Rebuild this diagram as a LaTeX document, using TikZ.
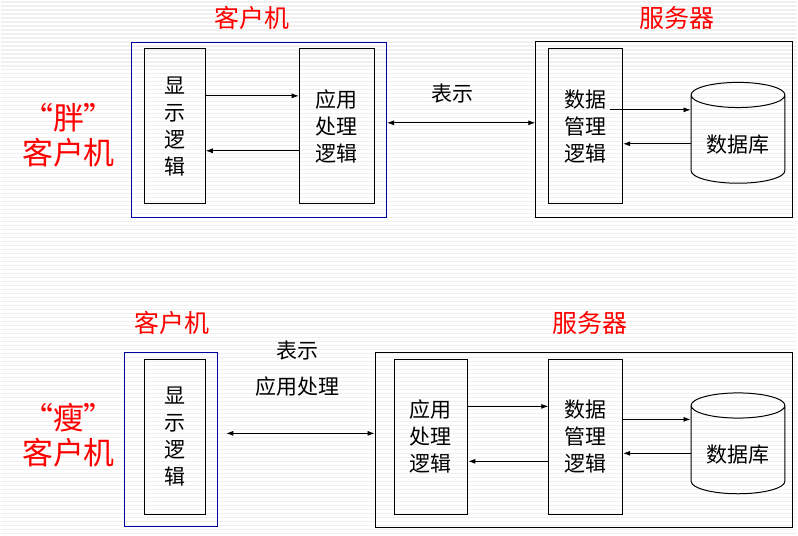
\documentclass[tikz,border=0pt]{standalone}
\usepackage{fontspec}
\newfontfamily\cjk{Noto Sans CJK SC}
\usetikzlibrary{arrows.meta, shapes.geometric, positioning}
\definecolor{titlered}{RGB}{255, 0, 0}
\definecolor{clientblue}{RGB}{0, 0, 160}

\begin{document}
\begin{tikzpicture}[x=1pt, y=-1pt,
  logic/.style={draw, line width=1pt, minimum width=61pt, minimum height=155pt, inner sep=0pt, align=center, font=\cjk\fontsize{21}{27}\selectfont},
  clientbox/.style={draw=clientblue, line width=1pt, minimum width=255pt, minimum height=175pt, inner sep=0pt},
  serverbox/.style={draw, line width=1pt, minimum width=257pt, minimum height=176pt, inner sep=0pt},
  db/.style={cylinder, draw, line width=1pt, shape border rotate=90, aspect=0.4, minimum width=94pt, minimum height=101pt, inner sep=0pt, anchor=south, text height=28pt, text depth=2.5pt, font=\cjk\fontsize{21}{25}\selectfont},
  title/.style={text=titlered, inner sep=0pt, font=\cjk\fontsize{25}{30}\selectfont},
  biglabel/.style={text=titlered, inner sep=0pt, align=center, font=\cjk\fontsize{31}{35}\selectfont},
  label/.style={inner sep=0pt, align=center, font=\cjk\fontsize{21}{36}\selectfont},
  conn/.style={-{Latex[length=7pt, width=5pt]}, line width=0.8pt},
  dconn/.style={{Latex[length=7pt, width=5pt]}-{Latex[length=7pt, width=5pt]}, line width=0.8pt},
  stripe/.style={draw=gray!12, line width=1.2pt}
]
  % background with slide stripes
  \fill[white] (0,0) rectangle (798,536);
  \foreach \y in {2,6,...,534}
    \draw[stripe] (0,\y) -- (798,\y);
  \useasboundingbox (0,0) rectangle (798,536);

  % "fat" client
  \node[biglabel] (fat) at (68,135) {“胖”\\客户机};
  \node[title] (ctitle1) at (252,18) {客户机};
  \node[title] (stitle1) at (677,18) {服务器};
  \node[clientbox] (client1) at (259,130) {};
  \node[serverbox] (server1) at (664.5,130) {};
  \node[logic] (show1) at (174.5,126.5) {显\\示\\逻\\辑};
  \node[logic, minimum width=75pt] (app1) at (336.5,126.5) {应用\\处理\\逻辑};
  \node[logic, minimum width=74pt] (data1) at (586,126.5) {数据\\管理\\逻辑};
  \node[db] (db1) at (738.5,184) {数据库};
  \node[label] (pres1) at (453,94) {表示};

  \draw[conn] (show1.east |- 0,96) -- (app1.west |- 0,96);
  \draw[conn] (app1.west |- 0,151) -- (show1.east |- 0,151);
  \draw[dconn] ([yshift=7pt]client1.east) -- ([yshift=7pt]server1.west);
  \draw[conn] ([xshift=-13pt]data1.east |- 0,110) -- (db1.west |- 0,110);
  \draw[conn] (db1.west |- 0,144) -- (data1.east |- 0,144);

  % "thin" client
  \node[biglabel] (thin) at (68,436) {“瘦”\\客户机};
  \node[title] (ctitle2) at (172,323) {客户机};
  \node[title] (stitle2) at (590,323) {服务器};
  \node[clientbox, minimum width=93pt, minimum height=174pt] (client2) at (171,440.5) {};
  \node[serverbox, minimum width=418pt, minimum height=175pt] (server2) at (584,440.5) {};
  \node[logic] (show2) at (174.5,437.5) {显\\示\\逻\\辑};
  \node[logic, minimum width=74pt] (app2) at (431,437.5) {应用\\处理\\逻辑};
  \node[logic, minimum width=74pt] (data2) at (586,437.5) {数据\\管理\\逻辑};
  \node[db] (db2) at (738.5,495) {数据库};
  \node[label] (pres2) at (297,369) {表示\\应用处理};

  \draw[dconn, shorten <=8pt] ([yshift=6.5pt]client2.east) -- ([yshift=6.5pt]server2.west);
  \draw[conn] (app2.east |- 0,407) -- (data2.west |- 0,407);
  \draw[conn] (data2.west |- 0,462) -- (app2.east |- 0,462);
  \draw[conn] (data2.east |- 0,420) -- (db2.west |- 0,420);
  \draw[conn] (db2.west |- 0,454) -- (data2.east |- 0,454);
\end{tikzpicture}
\end{document}
